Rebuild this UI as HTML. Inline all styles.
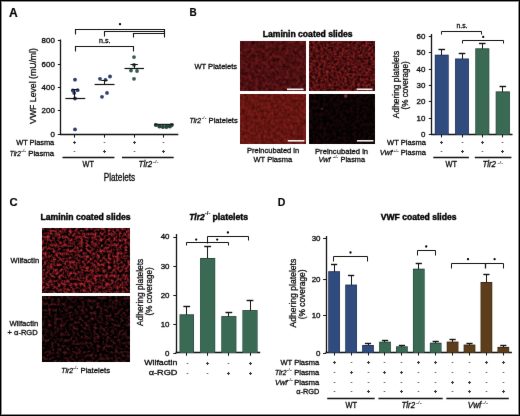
<!DOCTYPE html>
<html><head><meta charset="utf-8"><style>
html,body{margin:0;padding:0;background:#fff;}
svg{display:block;font-family:"Liberation Sans", sans-serif;will-change:transform;}
text{stroke:#111;stroke-width:0.3px;}
text[font-weight=bold]{stroke:#000;stroke-width:0.4px;}
</style></head><body>
<svg width="520" height="416" viewBox="0 0 520 416">
<rect x="0" y="0" width="520" height="416" fill="#fff"/>
<filter id="soft" x="0" y="0" width="520" height="416" filterUnits="userSpaceOnUse" color-interpolation-filters="sRGB"><feConvolveMatrix order="3" kernelMatrix="0.00276 0.04704 0.00276 0.04704 0.80077 0.04704 0.00276 0.04704 0.00276" edgeMode="duplicate" preserveAlpha="true"/></filter>
<g filter="url(#soft)"><rect x="0" y="0" width="520" height="416" fill="#fff"/>
<defs><filter id="fB1" x="0" y="0" width="1" height="1" color-interpolation-filters="sRGB">
<feTurbulence type="fractalNoise" baseFrequency="0.29" numOctaves="3" seed="21"/>
<feColorMatrix type="matrix" values="1 0 0 0 0 1 0 0 0 0 1 0 0 0 0 0 0 0 0 1"/>
<feComponentTransfer><feFuncR type="linear" slope="0.432" intercept="0.090"/><feFuncG type="linear" slope="0.133" intercept="-0.004"/><feFuncB type="linear" slope="0.133" intercept="0.004"/></feComponentTransfer>
</filter>
<filter id="fB2" x="0" y="0" width="1" height="1" color-interpolation-filters="sRGB">
<feTurbulence type="fractalNoise" baseFrequency="0.38" numOctaves="2" seed="12"/>
<feColorMatrix type="matrix" values="1 0 0 0 0 1 0 0 0 0 1 0 0 0 0 0 0 0 0 1"/>
<feComponentTransfer><feFuncR type="linear" slope="0.798" intercept="-0.077"/><feFuncG type="linear" slope="0.199" intercept="-0.033"/><feFuncB type="linear" slope="0.166" intercept="-0.012"/></feComponentTransfer>
</filter>
<filter id="fB3" x="0" y="0" width="1" height="1" color-interpolation-filters="sRGB">
<feTurbulence type="fractalNoise" baseFrequency="0.31" numOctaves="3" seed="23"/>
<feColorMatrix type="matrix" values="1 0 0 0 0 1 0 0 0 0 1 0 0 0 0 0 0 0 0 1"/>
<feComponentTransfer><feFuncR type="linear" slope="0.366" intercept="0.217"/><feFuncG type="linear" slope="0.100" intercept="0.036"/><feFuncB type="linear" slope="0.100" intercept="0.021"/></feComponentTransfer>
</filter>
<filter id="fB4" x="0" y="0" width="1" height="1" color-interpolation-filters="sRGB">
<feTurbulence type="fractalNoise" baseFrequency="0.3" numOctaves="2" seed="14"/>
<feColorMatrix type="matrix" values="1 0 0 0 0 1 0 0 0 0 1 0 0 0 0 0 0 0 0 1"/>
<feComponentTransfer><feFuncR type="linear" slope="0.233" intercept="-0.065"/><feFuncG type="linear" slope="0.066" intercept="-0.018"/><feFuncB type="linear" slope="0.066" intercept="-0.014"/></feComponentTransfer>
</filter>
<filter id="fC1" x="0" y="0" width="1" height="1" color-interpolation-filters="sRGB">
<feTurbulence type="fractalNoise" baseFrequency="0.36" numOctaves="3" seed="15"/>
<feColorMatrix type="matrix" values="1 0 0 0 0 1 0 0 0 0 1 0 0 0 0 0 0 0 0 1"/>
<feComponentTransfer><feFuncR type="linear" slope="1.529" intercept="-0.506"/><feFuncG type="linear" slope="0.366" intercept="-0.128"/><feFuncB type="linear" slope="0.399" intercept="-0.129"/></feComponentTransfer>
</filter>
<filter id="fC2" x="0" y="0" width="1" height="1" color-interpolation-filters="sRGB">
<feTurbulence type="fractalNoise" baseFrequency="0.33" numOctaves="3" seed="27"/>
<feColorMatrix type="matrix" values="1 0 0 0 0 1 0 0 0 0 1 0 0 0 0 0 0 0 0 1"/>
<feComponentTransfer><feFuncR type="linear" slope="0.864" intercept="-0.354"/><feFuncG type="linear" slope="0.233" intercept="-0.097"/><feFuncB type="linear" slope="0.233" intercept="-0.089"/></feComponentTransfer>
</filter></defs><rect x="240" y="41" width="66" height="50" fill="#000"/><rect x="240" y="41" width="66" height="50" fill="#000" filter="url(#fB1)"/>
<rect x="309" y="41" width="66" height="50" fill="#000"/><rect x="309" y="41" width="66" height="50" fill="#000" filter="url(#fB2)"/>
<rect x="240" y="94.3" width="66" height="48.9" fill="#000"/><rect x="240" y="94.3" width="66" height="48.9" fill="#000" filter="url(#fB3)"/>
<rect x="309" y="94.3" width="66" height="48.9" fill="#000"/><rect x="309" y="94.3" width="66" height="48.9" fill="#000" filter="url(#fB4)"/>
<rect x="42.3" y="228" width="87" height="64.7" fill="#000"/><rect x="42.3" y="228" width="87" height="64.7" fill="#000" filter="url(#fC1)"/>
<rect x="42.3" y="296.7" width="87" height="65.1" fill="#000"/><rect x="42.3" y="296.7" width="87" height="65.1" fill="#000" filter="url(#fC2)"/>
<circle cx="345.8" cy="96" r="1.8" fill="#b04048" opacity="0.7"/><circle cx="322" cy="109" r="1" fill="#803030" opacity="0.6"/>
<line x1="287" y1="89.3" x2="303.6" y2="89.3" stroke="#f4f4f4" stroke-width="1.6"/>
<line x1="356.7" y1="89.3" x2="372.5" y2="89.3" stroke="#f4f4f4" stroke-width="1.6"/>
<line x1="287.7" y1="140.8" x2="304.4" y2="140.8" stroke="#f4f4f4" stroke-width="1.6"/>
<line x1="356.9" y1="140.8" x2="373.4" y2="140.8" stroke="#f4f4f4" stroke-width="1.6"/>
<text x="9.0" y="16.6" font-size="12.1" text-anchor="start" font-weight="bold" fill="#000" style="stroke-width:0.15px">A</text>
<line x1="60.5" y1="39.5" x2="60.5" y2="135" stroke="#111" stroke-width="1.3"/>
<line x1="60" y1="134.5" x2="178.3" y2="134.5" stroke="#111" stroke-width="1.3"/>
<line x1="57.8" y1="134.5" x2="60.5" y2="134.5" stroke="#111" stroke-width="1.0"/>
<text x="54.8" y="136.9" font-size="7" text-anchor="end" textLength="4.4" lengthAdjust="spacingAndGlyphs">0</text>
<line x1="57.8" y1="110.5" x2="60.5" y2="110.5" stroke="#111" stroke-width="1.0"/>
<text x="54.8" y="113.45" font-size="7" text-anchor="end" textLength="13.200000000000001" lengthAdjust="spacingAndGlyphs">200</text>
<line x1="57.8" y1="87.5" x2="60.5" y2="87.5" stroke="#111" stroke-width="1.0"/>
<text x="54.8" y="90.0" font-size="7" text-anchor="end" textLength="13.200000000000001" lengthAdjust="spacingAndGlyphs">400</text>
<line x1="57.8" y1="64.5" x2="60.5" y2="64.5" stroke="#111" stroke-width="1.0"/>
<text x="54.8" y="66.55000000000001" font-size="7" text-anchor="end" textLength="13.200000000000001" lengthAdjust="spacingAndGlyphs">600</text>
<line x1="57.8" y1="40.5" x2="60.5" y2="40.5" stroke="#111" stroke-width="1.0"/>
<text x="54.8" y="43.10000000000001" font-size="7" text-anchor="end" textLength="13.200000000000001" lengthAdjust="spacingAndGlyphs">800</text>
<text x="35.6" y="86" font-size="9.7" text-anchor="middle" textLength="75.8" lengthAdjust="spacingAndGlyphs" transform="rotate(-90 35.6 86)">VWF Level (mU/ml)</text>
<line x1="74.5" y1="134.5" x2="74.5" y2="137.6" stroke="#111" stroke-width="1.0"/>
<line x1="104.5" y1="134.5" x2="104.5" y2="137.6" stroke="#111" stroke-width="1.0"/>
<line x1="134.5" y1="134.5" x2="134.5" y2="137.6" stroke="#111" stroke-width="1.0"/>
<line x1="163.5" y1="134.5" x2="163.5" y2="137.6" stroke="#111" stroke-width="1.0"/>
<path d="M75.5,34.5 V29.5 H164.5 V37.5 " fill="none" stroke="#111" stroke-width="1.1"/>
<path d="M104.5,36.5 V31.5 H164.5 " fill="none" stroke="#111" stroke-width="1.1"/>
<path d="M133.5,37.5 V33.5 H164.5 " fill="none" stroke="#111" stroke-width="1.1"/>
<circle cx="120" cy="24.2" r="1.15" fill="#000"/>
<path d="M75.5,51.5 V46.5 H133.5 V51.5 " fill="none" stroke="#111" stroke-width="1.1"/>
<text x="99" y="42.9" font-size="7" text-anchor="start" textLength="11.5" lengthAdjust="spacingAndGlyphs">n.s.</text>
<circle cx="75" cy="79.7" r="1.9" fill="#2e3f6e"/>
<circle cx="72.8" cy="90.5" r="1.9" fill="#2e3f6e"/>
<circle cx="77.6" cy="90.2" r="1.9" fill="#2e3f6e"/>
<circle cx="74.2" cy="93" r="1.9" fill="#2e3f6e"/>
<circle cx="75" cy="98.5" r="1.9" fill="#2e3f6e"/>
<circle cx="75" cy="129.4" r="1.9" fill="#2e3f6e"/>
<line x1="65.4" y1="98.5" x2="85.3" y2="98.5" stroke="#111" stroke-width="1.2"/>
<line x1="74.5" y1="89.6" x2="74.5" y2="98" stroke="#111" stroke-width="1.0"/>
<line x1="71.8" y1="89.5" x2="78.4" y2="89.5" stroke="#111" stroke-width="1.0"/>
<circle cx="100" cy="78.8" r="1.9" fill="#2e3f6e"/>
<circle cx="105.5" cy="79.8" r="1.9" fill="#2e3f6e"/>
<circle cx="110" cy="76.5" r="1.9" fill="#2e3f6e"/>
<circle cx="107" cy="92.9" r="1.9" fill="#2e3f6e"/>
<circle cx="102" cy="96.8" r="1.9" fill="#2e3f6e"/>
<line x1="94.6" y1="84.5" x2="114.5" y2="84.5" stroke="#111" stroke-width="1.2"/>
<line x1="104.5" y1="81" x2="104.5" y2="84.6" stroke="#111" stroke-width="1.0"/>
<line x1="101.2" y1="80.5" x2="107.6" y2="80.5" stroke="#111" stroke-width="1.0"/>
<circle cx="134" cy="57.1" r="1.9" fill="#345c4b"/>
<circle cx="134" cy="64.9" r="1.9" fill="#345c4b"/>
<circle cx="131" cy="70.6" r="1.9" fill="#345c4b"/>
<circle cx="137" cy="71" r="1.9" fill="#345c4b"/>
<circle cx="134" cy="78.8" r="1.9" fill="#345c4b"/>
<line x1="124.5" y1="68.5" x2="144" y2="68.5" stroke="#111" stroke-width="1.2"/>
<line x1="134.5" y1="64.7" x2="134.5" y2="68.4" stroke="#111" stroke-width="1.0"/>
<line x1="130.5" y1="64.5" x2="137.9" y2="64.5" stroke="#111" stroke-width="1.0"/>
<circle cx="155.9" cy="125.0" r="2.05" fill="#25443a"/>
<circle cx="159.4" cy="126.4" r="2.05" fill="#25443a"/>
<circle cx="162.9" cy="126.9" r="2.05" fill="#25443a"/>
<circle cx="166.4" cy="126.9" r="2.05" fill="#25443a"/>
<circle cx="169.8" cy="126.4" r="2.05" fill="#25443a"/>
<circle cx="171.7" cy="125.1" r="2.05" fill="#25443a"/>
<line x1="154" y1="124.5" x2="173.6" y2="124.5" stroke="#14221c" stroke-width="1.4"/>
<text x="54.2" y="144.9" font-size="7.5" text-anchor="end" textLength="38" lengthAdjust="spacingAndGlyphs">WT Plasma</text>
<text x="9.8" y="155.5" font-size="7.5" text-anchor="start" font-style="italic" textLength="11" lengthAdjust="spacingAndGlyphs">Tlr2</text>
<text x="21.2" y="152.2" font-size="4" text-anchor="start" textLength="4.8" lengthAdjust="spacingAndGlyphs" fill="#333" style="stroke-width:0.05px">-/-</text>
<text x="54.2" y="155.5" font-size="7.5" text-anchor="end" textLength="26" lengthAdjust="spacingAndGlyphs">Plasma</text>
<line x1="73.0" y1="142.5" x2="76.0" y2="142.5" stroke="#333" stroke-width="1.0"/>
<line x1="74.5" y1="141.0" x2="74.5" y2="144.0" stroke="#333" stroke-width="1.0"/>
<line x1="73.7" y1="151.5" x2="75.3" y2="151.5" stroke="#666" stroke-width="1.0"/>
<line x1="103.7" y1="142.5" x2="105.3" y2="142.5" stroke="#666" stroke-width="1.0"/>
<line x1="103.0" y1="151.5" x2="106.0" y2="151.5" stroke="#333" stroke-width="1.0"/>
<line x1="104.5" y1="150.0" x2="104.5" y2="153.0" stroke="#333" stroke-width="1.0"/>
<line x1="133.0" y1="142.5" x2="136.0" y2="142.5" stroke="#333" stroke-width="1.0"/>
<line x1="134.5" y1="141.0" x2="134.5" y2="144.0" stroke="#333" stroke-width="1.0"/>
<line x1="133.7" y1="151.5" x2="135.3" y2="151.5" stroke="#666" stroke-width="1.0"/>
<line x1="162.7" y1="142.5" x2="164.3" y2="142.5" stroke="#666" stroke-width="1.0"/>
<line x1="162.0" y1="151.5" x2="165.0" y2="151.5" stroke="#333" stroke-width="1.0"/>
<line x1="163.5" y1="150.0" x2="163.5" y2="153.0" stroke="#333" stroke-width="1.0"/>
<line x1="62.5" y1="157.5" x2="114.4" y2="157.5" stroke="#111" stroke-width="1.4"/>
<line x1="122" y1="157.5" x2="173.7" y2="157.5" stroke="#111" stroke-width="1.4"/>
<text x="88.3" y="167.3" font-size="8.3" text-anchor="middle" textLength="11.4" lengthAdjust="spacingAndGlyphs">WT</text>
<text x="138.6" y="167.3" font-size="8.3" text-anchor="start" font-style="italic" textLength="13.6" lengthAdjust="spacingAndGlyphs">Tlr2</text>
<text x="153.0" y="163.4" font-size="4.2" text-anchor="start" textLength="5.6" lengthAdjust="spacingAndGlyphs" fill="#333" style="stroke-width:0.05px">-/-</text>
<text x="103.7" y="180.7" font-size="10" text-anchor="start" textLength="31.5" lengthAdjust="spacingAndGlyphs">Platelets</text>
<text x="189.4" y="16.4" font-size="11.6" text-anchor="start" font-weight="bold" textLength="7.2" lengthAdjust="spacingAndGlyphs" fill="#000" style="stroke-width:0.15px">B</text>
<text x="262.7" y="36.6" font-size="8.6" text-anchor="start" font-weight="bold" textLength="89.9" lengthAdjust="spacingAndGlyphs" fill="#000">Laminin coated slides</text>
<text x="194.4" y="69.2" font-size="7.6" text-anchor="start" textLength="42.7" lengthAdjust="spacingAndGlyphs">WT Platelets</text>
<text x="189.4" y="122.6" font-size="7.8" text-anchor="start" font-style="italic" textLength="11.7" lengthAdjust="spacingAndGlyphs">Tlr2</text>
<text x="201.7" y="118.6" font-size="4" text-anchor="start" textLength="4.6" lengthAdjust="spacingAndGlyphs" fill="#333" style="stroke-width:0.05px">-/-</text>
<text x="208.6" y="122.6" font-size="7.8" text-anchor="start" textLength="29.2" lengthAdjust="spacingAndGlyphs">Platelets</text>
<text x="247" y="153.4" font-size="7.6" text-anchor="start" textLength="52.2" lengthAdjust="spacingAndGlyphs">Preincubated in</text>
<text x="253.5" y="162.2" font-size="7.6" text-anchor="start" textLength="38.7" lengthAdjust="spacingAndGlyphs">WT Plasma</text>
<text x="315" y="153.5" font-size="7.6" text-anchor="start" textLength="53.1" lengthAdjust="spacingAndGlyphs">Preincubated in</text>
<text x="318.5" y="162" font-size="7.6" text-anchor="start" font-style="italic" textLength="12.1" lengthAdjust="spacingAndGlyphs">Vwf</text>
<text x="333" y="158.2" font-size="4" text-anchor="start" textLength="5" lengthAdjust="spacingAndGlyphs" fill="#333" style="stroke-width:0.05px">+/-</text>
<text x="340.6" y="162" font-size="7.6" text-anchor="start" textLength="24.4" lengthAdjust="spacingAndGlyphs">Plasma</text>
<line x1="431.5" y1="34" x2="431.5" y2="135" stroke="#111" stroke-width="1.3"/>
<line x1="431" y1="134.5" x2="512.5" y2="134.5" stroke="#111" stroke-width="1.3"/>
<line x1="428.8" y1="134.5" x2="431.5" y2="134.5" stroke="#111" stroke-width="1.0"/>
<text x="425.3" y="136.9" font-size="7" text-anchor="end" textLength="4.4" lengthAdjust="spacingAndGlyphs">0</text>
<line x1="428.8" y1="118.5" x2="431.5" y2="118.5" stroke="#111" stroke-width="1.0"/>
<text x="425.3" y="120.60000000000001" font-size="7" text-anchor="end" textLength="8.8" lengthAdjust="spacingAndGlyphs">10</text>
<line x1="428.8" y1="101.5" x2="431.5" y2="101.5" stroke="#111" stroke-width="1.0"/>
<text x="425.3" y="104.30000000000001" font-size="7" text-anchor="end" textLength="8.8" lengthAdjust="spacingAndGlyphs">20</text>
<line x1="428.8" y1="85.5" x2="431.5" y2="85.5" stroke="#111" stroke-width="1.0"/>
<text x="425.3" y="88.0" font-size="7" text-anchor="end" textLength="8.8" lengthAdjust="spacingAndGlyphs">30</text>
<line x1="428.8" y1="69.5" x2="431.5" y2="69.5" stroke="#111" stroke-width="1.0"/>
<text x="425.3" y="71.70000000000002" font-size="7" text-anchor="end" textLength="8.8" lengthAdjust="spacingAndGlyphs">40</text>
<line x1="428.8" y1="52.5" x2="431.5" y2="52.5" stroke="#111" stroke-width="1.0"/>
<text x="425.3" y="55.4" font-size="7" text-anchor="end" textLength="8.8" lengthAdjust="spacingAndGlyphs">50</text>
<line x1="428.8" y1="36.5" x2="431.5" y2="36.5" stroke="#111" stroke-width="1.0"/>
<text x="425.3" y="39.1" font-size="7" text-anchor="end" textLength="8.8" lengthAdjust="spacingAndGlyphs">60</text>
<line x1="441.5" y1="49.9" x2="441.5" y2="55.7" stroke="#111" stroke-width="1.0"/>
<line x1="438.45" y1="49.5" x2="445.05" y2="49.5" stroke="#111" stroke-width="1.4"/>
<rect x="434.8" y="54.7" width="13.899999999999977" height="79.8" fill="#1d2f58"/>
<rect x="435.40000000000003" y="55.6" width="12.699999999999978" height="78.89999999999999" fill="#304c7e"/>
<line x1="441.5" y1="134.5" x2="441.5" y2="137.4" stroke="#111" stroke-width="1.0"/>
<line x1="462.5" y1="53.5" x2="462.5" y2="59.5" stroke="#111" stroke-width="1.0"/>
<line x1="458.7" y1="53.5" x2="465.3" y2="53.5" stroke="#111" stroke-width="1.4"/>
<rect x="455.1" y="58.5" width="13.799999999999955" height="76.0" fill="#1d2f58"/>
<rect x="455.70000000000005" y="59.4" width="12.599999999999955" height="75.1" fill="#304c7e"/>
<line x1="462.5" y1="134.5" x2="462.5" y2="137.4" stroke="#111" stroke-width="1.0"/>
<line x1="482.5" y1="43.8" x2="482.5" y2="49.3" stroke="#111" stroke-width="1.0"/>
<line x1="479.0" y1="43.5" x2="485.6" y2="43.5" stroke="#111" stroke-width="1.4"/>
<rect x="475.3" y="48.3" width="14.0" height="86.2" fill="#22443a"/>
<rect x="475.90000000000003" y="49.199999999999996" width="12.8" height="85.3" fill="#3a6a54"/>
<line x1="482.5" y1="134.5" x2="482.5" y2="137.4" stroke="#111" stroke-width="1.0"/>
<line x1="502.5" y1="87" x2="502.5" y2="92.4" stroke="#111" stroke-width="1.0"/>
<line x1="499.49999999999994" y1="86.5" x2="506.09999999999997" y2="86.5" stroke="#111" stroke-width="1.4"/>
<rect x="495.7" y="91.4" width="14.199999999999989" height="43.099999999999994" fill="#22443a"/>
<rect x="496.3" y="92.30000000000001" width="12.99999999999999" height="42.199999999999996" fill="#3a6a54"/>
<line x1="502.5" y1="134.5" x2="502.5" y2="137.4" stroke="#111" stroke-width="1.0"/>
<path d="M441.5,34.5 V31.5 H481.5 V34.5 " fill="none" stroke="#111" stroke-width="1.0"/>
<text x="462" y="28" font-size="7" text-anchor="middle" textLength="11" lengthAdjust="spacingAndGlyphs">n.s.</text>
<path d="M462.5,43.5 V40.5 H503.5 V43.5 " fill="none" stroke="#111" stroke-width="1.0"/>
<circle cx="483.2" cy="36.9" r="1.15" fill="#000"/>
<text x="398.7" y="84.5" font-size="9.2" text-anchor="middle" textLength="67.3" lengthAdjust="spacingAndGlyphs" transform="rotate(-90 398.7 84.5)">Adhering platelets</text>
<text x="408.3" y="85.4" font-size="9.2" text-anchor="middle" textLength="48.1" lengthAdjust="spacingAndGlyphs" transform="rotate(-90 408.3 85.4)">(% coverage)</text>
<text x="425.9" y="144.5" font-size="7.5" text-anchor="end" textLength="38.8" lengthAdjust="spacingAndGlyphs">WT Plasma</text>
<text x="379.7" y="155.3" font-size="7.5" text-anchor="start" font-style="italic" textLength="12.6" lengthAdjust="spacingAndGlyphs">Vwf</text>
<text x="393.6" y="151.6" font-size="4" text-anchor="start" textLength="5" lengthAdjust="spacingAndGlyphs" fill="#333" style="stroke-width:0.05px">+/-</text>
<text x="425.9" y="155.3" font-size="7.5" text-anchor="end" textLength="25.1" lengthAdjust="spacingAndGlyphs">Plasma</text>
<line x1="440.0" y1="142.5" x2="443.0" y2="142.5" stroke="#333" stroke-width="1.0"/>
<line x1="441.5" y1="141.0" x2="441.5" y2="144.0" stroke="#333" stroke-width="1.0"/>
<line x1="440.7" y1="151.5" x2="442.3" y2="151.5" stroke="#666" stroke-width="1.0"/>
<line x1="461.7" y1="142.5" x2="463.3" y2="142.5" stroke="#666" stroke-width="1.0"/>
<line x1="461.0" y1="151.5" x2="464.0" y2="151.5" stroke="#333" stroke-width="1.0"/>
<line x1="462.5" y1="150.0" x2="462.5" y2="153.0" stroke="#333" stroke-width="1.0"/>
<line x1="481.0" y1="142.5" x2="484.0" y2="142.5" stroke="#333" stroke-width="1.0"/>
<line x1="482.5" y1="141.0" x2="482.5" y2="144.0" stroke="#333" stroke-width="1.0"/>
<line x1="481.7" y1="151.5" x2="483.3" y2="151.5" stroke="#666" stroke-width="1.0"/>
<line x1="501.7" y1="142.5" x2="503.3" y2="142.5" stroke="#666" stroke-width="1.0"/>
<line x1="501.0" y1="151.5" x2="504.0" y2="151.5" stroke="#333" stroke-width="1.0"/>
<line x1="502.5" y1="150.0" x2="502.5" y2="153.0" stroke="#333" stroke-width="1.0"/>
<line x1="433.3" y1="157.5" x2="468.9" y2="157.5" stroke="#111" stroke-width="1.4"/>
<line x1="474.8" y1="157.5" x2="511.4" y2="157.5" stroke="#111" stroke-width="1.4"/>
<text x="451.3" y="167.4" font-size="8.3" text-anchor="middle" textLength="11.5" lengthAdjust="spacingAndGlyphs">WT</text>
<text x="482.4" y="167.4" font-size="8.3" text-anchor="start" font-style="italic" textLength="13.6" lengthAdjust="spacingAndGlyphs">Tlr2</text>
<text x="497.4" y="163.5" font-size="4.2" text-anchor="start" textLength="5.8" lengthAdjust="spacingAndGlyphs" fill="#333" style="stroke-width:0.05px">-/-</text>
<text x="9.4" y="206.4" font-size="11.3" text-anchor="start" font-weight="bold" fill="#000" style="stroke-width:0.15px">C</text>
<text x="40.4" y="219.5" font-size="8.6" text-anchor="start" font-weight="bold" textLength="90.2" lengthAdjust="spacingAndGlyphs" fill="#000">Laminin coated slides</text>
<text x="10.6" y="262.5" font-size="7.6" text-anchor="start" textLength="28.5" lengthAdjust="spacingAndGlyphs">Wilfactin</text>
<text x="9.4" y="325.8" font-size="7.6" text-anchor="start" textLength="28.8" lengthAdjust="spacingAndGlyphs">Wilfactin</text>
<text x="7.5" y="335.2" font-size="7.6" text-anchor="start" textLength="30.2" lengthAdjust="spacingAndGlyphs">+ α-RGD</text>
<text x="61.3" y="373.2" font-size="7.6" text-anchor="start" font-style="italic" textLength="11.8" lengthAdjust="spacingAndGlyphs">Tlr2</text>
<text x="73.3" y="369.3" font-size="4" text-anchor="start" textLength="4.8" lengthAdjust="spacingAndGlyphs" fill="#333" style="stroke-width:0.05px">-/-</text>
<text x="80.5" y="373.2" font-size="7.6" text-anchor="start" textLength="29.5" lengthAdjust="spacingAndGlyphs">Platelets</text>
<text x="189.3" y="219.6" font-size="8.6" text-anchor="start" font-weight="bold" font-style="italic" textLength="15.2" lengthAdjust="spacingAndGlyphs" fill="#000">Tlr2</text>
<text x="204.8" y="215.4" font-size="4.6" text-anchor="start" font-weight="bold" textLength="5.6" lengthAdjust="spacingAndGlyphs" fill="#000" style="stroke-width:0.05px">-/-</text>
<text x="212.5" y="219.6" font-size="8.6" text-anchor="start" font-weight="bold" textLength="35.7" lengthAdjust="spacingAndGlyphs" fill="#000">platelets</text>
<line x1="176.5" y1="234" x2="176.5" y2="353.3" stroke="#111" stroke-width="1.3"/>
<line x1="175.5" y1="352.5" x2="260.2" y2="352.5" stroke="#111" stroke-width="1.3"/>
<line x1="173.3" y1="353.5" x2="176" y2="353.5" stroke="#111" stroke-width="1.0"/>
<text x="169.5" y="355.59999999999997" font-size="7" text-anchor="end" textLength="4.4" lengthAdjust="spacingAndGlyphs">0</text>
<line x1="173.3" y1="324.5" x2="176" y2="324.5" stroke="#111" stroke-width="1.0"/>
<text x="169.5" y="326.56999999999994" font-size="7" text-anchor="end" textLength="8.8" lengthAdjust="spacingAndGlyphs">10</text>
<line x1="173.3" y1="295.5" x2="176" y2="295.5" stroke="#111" stroke-width="1.0"/>
<text x="169.5" y="297.53999999999996" font-size="7" text-anchor="end" textLength="8.8" lengthAdjust="spacingAndGlyphs">20</text>
<line x1="173.3" y1="266.5" x2="176" y2="266.5" stroke="#111" stroke-width="1.0"/>
<text x="169.5" y="268.51" font-size="7" text-anchor="end" textLength="8.8" lengthAdjust="spacingAndGlyphs">30</text>
<line x1="173.3" y1="237.5" x2="176" y2="237.5" stroke="#111" stroke-width="1.0"/>
<text x="169.5" y="239.48" font-size="7" text-anchor="end" textLength="8.8" lengthAdjust="spacingAndGlyphs">40</text>
<line x1="186.5" y1="306.3" x2="186.5" y2="315.3" stroke="#111" stroke-width="1.0"/>
<line x1="183.35" y1="306.5" x2="190.15" y2="306.5" stroke="#111" stroke-width="1.4"/>
<rect x="179.5" y="314.3" width="14.5" height="38.5" fill="#22443a"/>
<rect x="180.1" y="315.2" width="13.3" height="37.6" fill="#3a6a54"/>
<line x1="186.5" y1="352.8" x2="186.5" y2="355.8" stroke="#111" stroke-width="1.0"/>
<line x1="207.5" y1="246.8" x2="207.5" y2="259" stroke="#111" stroke-width="1.0"/>
<line x1="204.24999999999997" y1="246.5" x2="211.04999999999998" y2="246.5" stroke="#111" stroke-width="1.4"/>
<rect x="200.1" y="258" width="15.099999999999994" height="94.80000000000001" fill="#22443a"/>
<rect x="200.7" y="258.9" width="13.899999999999995" height="93.9" fill="#3a6a54"/>
<line x1="207.5" y1="352.8" x2="207.5" y2="355.8" stroke="#111" stroke-width="1.0"/>
<line x1="228.5" y1="312.2" x2="228.5" y2="317.1" stroke="#111" stroke-width="1.0"/>
<line x1="225.45000000000002" y1="312.5" x2="232.25000000000003" y2="312.5" stroke="#111" stroke-width="1.4"/>
<rect x="221.3" y="316.1" width="15.099999999999994" height="36.69999999999999" fill="#22443a"/>
<rect x="221.9" y="317.0" width="13.899999999999995" height="35.79999999999999" fill="#3a6a54"/>
<line x1="228.5" y1="352.8" x2="228.5" y2="355.8" stroke="#111" stroke-width="1.0"/>
<line x1="250.5" y1="300.5" x2="250.5" y2="311.1" stroke="#111" stroke-width="1.0"/>
<line x1="246.6" y1="300.5" x2="253.4" y2="300.5" stroke="#111" stroke-width="1.4"/>
<rect x="242.4" y="310.1" width="15.200000000000017" height="42.69999999999999" fill="#22443a"/>
<rect x="243.0" y="311.0" width="14.000000000000018" height="41.79999999999999" fill="#3a6a54"/>
<line x1="250.5" y1="352.8" x2="250.5" y2="355.8" stroke="#111" stroke-width="1.0"/>
<path d="M186.5,245.5 V242.5 H228.5 V245.5 " fill="none" stroke="#111" stroke-width="1.0"/>
<path d="M207.5,243.5 V236.5 H248.5 V240.5 " fill="none" stroke="#111" stroke-width="1.0"/>
<circle cx="196.2" cy="239.6" r="1.15" fill="#000"/>
<circle cx="217.2" cy="239.6" r="1.15" fill="#000"/>
<circle cx="227.9" cy="232.5" r="1.15" fill="#000"/>
<text x="142.7" y="292.4" font-size="9.2" text-anchor="middle" textLength="67.3" lengthAdjust="spacingAndGlyphs" transform="rotate(-90 142.7 292.4)">Adhering platelets</text>
<text x="151.9" y="291.4" font-size="9.2" text-anchor="middle" textLength="48.1" lengthAdjust="spacingAndGlyphs" transform="rotate(-90 151.9 291.4)">(% coverage)</text>
<text x="177.4" y="364.9" font-size="7.5" text-anchor="end" textLength="33.2" lengthAdjust="spacingAndGlyphs">Wilfactin</text>
<text x="177.4" y="375.1" font-size="7.5" text-anchor="end" textLength="28.6" lengthAdjust="spacingAndGlyphs">α-RGD</text>
<line x1="186.7" y1="363.5" x2="188.3" y2="363.5" stroke="#666" stroke-width="1.0"/>
<line x1="186.7" y1="373.5" x2="188.3" y2="373.5" stroke="#666" stroke-width="1.0"/>
<line x1="206.0" y1="363.5" x2="209.0" y2="363.5" stroke="#333" stroke-width="1.0"/>
<line x1="207.5" y1="362.0" x2="207.5" y2="365.0" stroke="#333" stroke-width="1.0"/>
<line x1="206.7" y1="373.5" x2="208.3" y2="373.5" stroke="#666" stroke-width="1.0"/>
<line x1="227.7" y1="363.5" x2="229.3" y2="363.5" stroke="#666" stroke-width="1.0"/>
<line x1="227.0" y1="373.5" x2="230.0" y2="373.5" stroke="#333" stroke-width="1.0"/>
<line x1="228.5" y1="372.0" x2="228.5" y2="375.0" stroke="#333" stroke-width="1.0"/>
<line x1="249.0" y1="363.5" x2="252.0" y2="363.5" stroke="#333" stroke-width="1.0"/>
<line x1="250.5" y1="362.0" x2="250.5" y2="365.0" stroke="#333" stroke-width="1.0"/>
<line x1="249.0" y1="373.5" x2="252.0" y2="373.5" stroke="#333" stroke-width="1.0"/>
<line x1="250.5" y1="372.0" x2="250.5" y2="375.0" stroke="#333" stroke-width="1.0"/>
<text x="277.7" y="206.3" font-size="11.6" text-anchor="start" font-weight="bold" textLength="7.6" lengthAdjust="spacingAndGlyphs" fill="#000" style="stroke-width:0.15px">D</text>
<text x="380.7" y="219.7" font-size="8.6" text-anchor="start" font-weight="bold" textLength="75.8" lengthAdjust="spacingAndGlyphs" fill="#000">VWF coated slides</text>
<line x1="326.5" y1="236" x2="326.5" y2="353.1" stroke="#111" stroke-width="1.3"/>
<line x1="325.5" y1="352.5" x2="511.9" y2="352.5" stroke="#111" stroke-width="1.3"/>
<line x1="323.1" y1="353.5" x2="326" y2="353.5" stroke="#111" stroke-width="1.0"/>
<text x="320.5" y="355.5" font-size="7" text-anchor="end" textLength="4.4" lengthAdjust="spacingAndGlyphs">0</text>
<line x1="323.1" y1="315.5" x2="326" y2="315.5" stroke="#111" stroke-width="1.0"/>
<text x="320.5" y="318.0" font-size="7" text-anchor="end" textLength="8.8" lengthAdjust="spacingAndGlyphs">10</text>
<line x1="323.1" y1="279.5" x2="326" y2="279.5" stroke="#111" stroke-width="1.0"/>
<text x="320.5" y="281.5" font-size="7" text-anchor="end" textLength="8.8" lengthAdjust="spacingAndGlyphs">20</text>
<line x1="323.1" y1="238.5" x2="326" y2="238.5" stroke="#111" stroke-width="1.0"/>
<text x="320.5" y="241.1" font-size="7" text-anchor="end" textLength="8.8" lengthAdjust="spacingAndGlyphs">30</text>
<line x1="334.5" y1="264.7" x2="334.5" y2="272.2" stroke="#111" stroke-width="1.0"/>
<line x1="331.0" y1="264.5" x2="337.20000000000005" y2="264.5" stroke="#111" stroke-width="1.4"/>
<rect x="328.25" y="271.2" width="11.7" height="81.40000000000003" fill="#1d2f58"/>
<rect x="328.85" y="272.09999999999997" width="10.5" height="80.50000000000003" fill="#304c7e"/>
<line x1="334.5" y1="352.6" x2="334.5" y2="355.5" stroke="#111" stroke-width="1.0"/>
<line x1="351.5" y1="275.9" x2="351.5" y2="285.6" stroke="#111" stroke-width="1.0"/>
<line x1="348.0" y1="275.5" x2="354.20000000000005" y2="275.5" stroke="#111" stroke-width="1.4"/>
<rect x="345.25" y="284.6" width="11.7" height="68.0" fill="#1d2f58"/>
<rect x="345.85" y="285.5" width="10.5" height="67.1" fill="#304c7e"/>
<line x1="351.5" y1="352.6" x2="351.5" y2="355.5" stroke="#111" stroke-width="1.0"/>
<line x1="368.5" y1="343.8" x2="368.5" y2="346" stroke="#111" stroke-width="1.0"/>
<line x1="364.9" y1="343.5" x2="371.1" y2="343.5" stroke="#111" stroke-width="1.4"/>
<rect x="362.15" y="345" width="11.7" height="7.600000000000023" fill="#1d2f58"/>
<rect x="362.75" y="345.9" width="10.5" height="6.700000000000022" fill="#304c7e"/>
<line x1="368.5" y1="352.6" x2="368.5" y2="355.5" stroke="#111" stroke-width="1.0"/>
<line x1="384.5" y1="340.0" x2="384.5" y2="342.7" stroke="#111" stroke-width="1.0"/>
<line x1="381.9" y1="340.5" x2="388.1" y2="340.5" stroke="#111" stroke-width="1.4"/>
<rect x="379.15" y="341.7" width="11.7" height="10.900000000000034" fill="#22443a"/>
<rect x="379.75" y="342.59999999999997" width="10.5" height="10.000000000000034" fill="#3a6a54"/>
<line x1="384.5" y1="352.6" x2="384.5" y2="355.5" stroke="#111" stroke-width="1.0"/>
<line x1="401.5" y1="345.2" x2="401.5" y2="347.3" stroke="#111" stroke-width="1.0"/>
<line x1="398.79999999999995" y1="345.5" x2="405.0" y2="345.5" stroke="#111" stroke-width="1.4"/>
<rect x="396.04999999999995" y="346.3" width="11.7" height="6.300000000000011" fill="#22443a"/>
<rect x="396.65" y="347.2" width="10.5" height="5.400000000000011" fill="#3a6a54"/>
<line x1="401.5" y1="352.6" x2="401.5" y2="355.5" stroke="#111" stroke-width="1.0"/>
<line x1="418.5" y1="263.3" x2="418.5" y2="269.7" stroke="#111" stroke-width="1.0"/>
<line x1="415.7" y1="263.5" x2="421.90000000000003" y2="263.5" stroke="#111" stroke-width="1.4"/>
<rect x="412.95" y="268.7" width="11.7" height="83.90000000000003" fill="#22443a"/>
<rect x="413.55" y="269.59999999999997" width="10.5" height="83.00000000000003" fill="#3a6a54"/>
<line x1="418.5" y1="352.6" x2="418.5" y2="355.5" stroke="#111" stroke-width="1.0"/>
<line x1="435.5" y1="341.8" x2="435.5" y2="343.7" stroke="#111" stroke-width="1.0"/>
<line x1="432.59999999999997" y1="341.5" x2="438.8" y2="341.5" stroke="#111" stroke-width="1.4"/>
<rect x="429.84999999999997" y="342.7" width="11.7" height="9.900000000000034" fill="#22443a"/>
<rect x="430.45" y="343.59999999999997" width="10.5" height="9.000000000000034" fill="#3a6a54"/>
<line x1="435.5" y1="352.6" x2="435.5" y2="355.5" stroke="#111" stroke-width="1.0"/>
<line x1="452.5" y1="339.8" x2="452.5" y2="342.6" stroke="#111" stroke-width="1.0"/>
<line x1="449.5" y1="339.5" x2="455.70000000000005" y2="339.5" stroke="#111" stroke-width="1.4"/>
<rect x="446.75" y="341.6" width="11.7" height="11.0" fill="#3a2610"/>
<rect x="447.35" y="342.5" width="10.5" height="10.1" fill="#5d3e1c"/>
<line x1="452.5" y1="352.6" x2="452.5" y2="355.5" stroke="#111" stroke-width="1.0"/>
<line x1="469.5" y1="343.6" x2="469.5" y2="345.6" stroke="#111" stroke-width="1.0"/>
<line x1="466.4" y1="343.5" x2="472.6" y2="343.5" stroke="#111" stroke-width="1.4"/>
<rect x="463.65" y="344.6" width="11.7" height="8.0" fill="#3a2610"/>
<rect x="464.25" y="345.5" width="10.5" height="7.1" fill="#5d3e1c"/>
<line x1="469.5" y1="352.6" x2="469.5" y2="355.5" stroke="#111" stroke-width="1.0"/>
<line x1="486.5" y1="274.2" x2="486.5" y2="283" stroke="#111" stroke-width="1.0"/>
<line x1="483.29999999999995" y1="274.5" x2="489.5" y2="274.5" stroke="#111" stroke-width="1.4"/>
<rect x="480.54999999999995" y="282" width="11.7" height="70.60000000000002" fill="#3a2610"/>
<rect x="481.15" y="282.9" width="10.5" height="69.70000000000002" fill="#5d3e1c"/>
<line x1="486.5" y1="352.6" x2="486.5" y2="355.5" stroke="#111" stroke-width="1.0"/>
<line x1="503.5" y1="345.8" x2="503.5" y2="347.9" stroke="#111" stroke-width="1.0"/>
<line x1="500.2" y1="345.5" x2="506.40000000000003" y2="345.5" stroke="#111" stroke-width="1.4"/>
<rect x="497.45" y="346.9" width="11.7" height="5.7000000000000455" fill="#3a2610"/>
<rect x="498.05" y="347.79999999999995" width="10.5" height="4.800000000000045" fill="#5d3e1c"/>
<line x1="503.5" y1="352.6" x2="503.5" y2="355.5" stroke="#111" stroke-width="1.0"/>
<path d="M333.5,261.5 V256.5 H367.5 V261.5 " fill="none" stroke="#111" stroke-width="1.0"/>
<circle cx="350.5" cy="252.5" r="1.15" fill="#000"/>
<path d="M417.5,255.5 V250.5 H435.5 V255.5 " fill="none" stroke="#111" stroke-width="1.0"/>
<circle cx="426.2" cy="246.5" r="1.15" fill="#000"/>
<path d="M451.5,268.5 V263.5 H503.5 V268.5 " fill="none" stroke="#111" stroke-width="1.0"/>
<line x1="485.5" y1="263.8" x2="485.5" y2="268.5" stroke="#111" stroke-width="1.3"/>
<circle cx="468" cy="259.2" r="1.15" fill="#000"/>
<circle cx="494.6" cy="259.2" r="1.15" fill="#000"/>
<text x="295.6" y="293.1" font-size="9.2" text-anchor="middle" textLength="68.8" lengthAdjust="spacingAndGlyphs" transform="rotate(-90 295.6 293.1)">Adhering platelets</text>
<text x="304.9" y="294.4" font-size="9.2" text-anchor="middle" textLength="49.8" lengthAdjust="spacingAndGlyphs" transform="rotate(-90 304.9 294.4)">(% coverage)</text>
<text x="319.3" y="364.5" font-size="7.5" text-anchor="end" textLength="38.8" lengthAdjust="spacingAndGlyphs">WT Plasma</text>
<text x="275" y="375" font-size="7.5" text-anchor="start" font-style="italic" textLength="11.5" lengthAdjust="spacingAndGlyphs">Tlr2</text>
<text x="286.8" y="371.2" font-size="4" text-anchor="start" textLength="4.8" lengthAdjust="spacingAndGlyphs" fill="#333" style="stroke-width:0.05px">-/-</text>
<text x="319.3" y="375" font-size="7.5" text-anchor="end" textLength="25.1" lengthAdjust="spacingAndGlyphs">Plasma</text>
<text x="275" y="384.5" font-size="7.5" text-anchor="start" font-style="italic" textLength="12.4" lengthAdjust="spacingAndGlyphs">Vwf</text>
<text x="288" y="380.7" font-size="4" text-anchor="start" textLength="4.8" lengthAdjust="spacingAndGlyphs" fill="#333" style="stroke-width:0.05px">-/-</text>
<text x="319.3" y="384.5" font-size="7.5" text-anchor="end" textLength="25.1" lengthAdjust="spacingAndGlyphs">Plasma</text>
<text x="319.3" y="393.8" font-size="7.5" text-anchor="end" textLength="23" lengthAdjust="spacingAndGlyphs">α-RGD</text>
<line x1="333.0" y1="362.5" x2="336.0" y2="362.5" stroke="#333" stroke-width="1.0"/>
<line x1="334.5" y1="361.0" x2="334.5" y2="364.0" stroke="#333" stroke-width="1.0"/>
<line x1="350.7" y1="362.5" x2="352.3" y2="362.5" stroke="#666" stroke-width="1.0"/>
<line x1="367.0" y1="362.5" x2="370.0" y2="362.5" stroke="#333" stroke-width="1.0"/>
<line x1="368.5" y1="361.0" x2="368.5" y2="364.0" stroke="#333" stroke-width="1.0"/>
<line x1="383.7" y1="362.5" x2="385.3" y2="362.5" stroke="#666" stroke-width="1.0"/>
<line x1="400.7" y1="362.5" x2="402.3" y2="362.5" stroke="#666" stroke-width="1.0"/>
<line x1="417.0" y1="362.5" x2="420.0" y2="362.5" stroke="#333" stroke-width="1.0"/>
<line x1="418.5" y1="361.0" x2="418.5" y2="364.0" stroke="#333" stroke-width="1.0"/>
<line x1="434.0" y1="362.5" x2="437.0" y2="362.5" stroke="#333" stroke-width="1.0"/>
<line x1="435.5" y1="361.0" x2="435.5" y2="364.0" stroke="#333" stroke-width="1.0"/>
<line x1="451.7" y1="362.5" x2="453.3" y2="362.5" stroke="#666" stroke-width="1.0"/>
<line x1="468.7" y1="362.5" x2="470.3" y2="362.5" stroke="#666" stroke-width="1.0"/>
<line x1="485.0" y1="362.5" x2="488.0" y2="362.5" stroke="#333" stroke-width="1.0"/>
<line x1="486.5" y1="361.0" x2="486.5" y2="364.0" stroke="#333" stroke-width="1.0"/>
<line x1="502.0" y1="362.5" x2="505.0" y2="362.5" stroke="#333" stroke-width="1.0"/>
<line x1="503.5" y1="361.0" x2="503.5" y2="364.0" stroke="#333" stroke-width="1.0"/>
<line x1="333.7" y1="372.5" x2="335.3" y2="372.5" stroke="#666" stroke-width="1.0"/>
<line x1="350.0" y1="372.5" x2="353.0" y2="372.5" stroke="#333" stroke-width="1.0"/>
<line x1="351.5" y1="371.0" x2="351.5" y2="374.0" stroke="#333" stroke-width="1.0"/>
<line x1="367.7" y1="372.5" x2="369.3" y2="372.5" stroke="#666" stroke-width="1.0"/>
<line x1="383.0" y1="372.5" x2="386.0" y2="372.5" stroke="#333" stroke-width="1.0"/>
<line x1="384.5" y1="371.0" x2="384.5" y2="374.0" stroke="#333" stroke-width="1.0"/>
<line x1="400.0" y1="372.5" x2="403.0" y2="372.5" stroke="#333" stroke-width="1.0"/>
<line x1="401.5" y1="371.0" x2="401.5" y2="374.0" stroke="#333" stroke-width="1.0"/>
<line x1="417.7" y1="372.5" x2="419.3" y2="372.5" stroke="#666" stroke-width="1.0"/>
<line x1="434.7" y1="372.5" x2="436.3" y2="372.5" stroke="#666" stroke-width="1.0"/>
<line x1="451.7" y1="372.5" x2="453.3" y2="372.5" stroke="#666" stroke-width="1.0"/>
<line x1="468.7" y1="372.5" x2="470.3" y2="372.5" stroke="#666" stroke-width="1.0"/>
<line x1="485.7" y1="372.5" x2="487.3" y2="372.5" stroke="#666" stroke-width="1.0"/>
<line x1="502.7" y1="372.5" x2="504.3" y2="372.5" stroke="#666" stroke-width="1.0"/>
<line x1="333.7" y1="382.5" x2="335.3" y2="382.5" stroke="#666" stroke-width="1.0"/>
<line x1="350.7" y1="382.5" x2="352.3" y2="382.5" stroke="#666" stroke-width="1.0"/>
<line x1="367.7" y1="382.5" x2="369.3" y2="382.5" stroke="#666" stroke-width="1.0"/>
<line x1="383.7" y1="382.5" x2="385.3" y2="382.5" stroke="#666" stroke-width="1.0"/>
<line x1="400.7" y1="382.5" x2="402.3" y2="382.5" stroke="#666" stroke-width="1.0"/>
<line x1="417.7" y1="382.5" x2="419.3" y2="382.5" stroke="#666" stroke-width="1.0"/>
<line x1="434.7" y1="382.5" x2="436.3" y2="382.5" stroke="#666" stroke-width="1.0"/>
<line x1="451.0" y1="382.5" x2="454.0" y2="382.5" stroke="#333" stroke-width="1.0"/>
<line x1="452.5" y1="381.0" x2="452.5" y2="384.0" stroke="#333" stroke-width="1.0"/>
<line x1="468.0" y1="382.5" x2="471.0" y2="382.5" stroke="#333" stroke-width="1.0"/>
<line x1="469.5" y1="381.0" x2="469.5" y2="384.0" stroke="#333" stroke-width="1.0"/>
<line x1="485.7" y1="382.5" x2="487.3" y2="382.5" stroke="#666" stroke-width="1.0"/>
<line x1="502.7" y1="382.5" x2="504.3" y2="382.5" stroke="#666" stroke-width="1.0"/>
<line x1="333.7" y1="391.5" x2="335.3" y2="391.5" stroke="#666" stroke-width="1.0"/>
<line x1="350.7" y1="391.5" x2="352.3" y2="391.5" stroke="#666" stroke-width="1.0"/>
<line x1="367.0" y1="391.5" x2="370.0" y2="391.5" stroke="#333" stroke-width="1.0"/>
<line x1="368.5" y1="390.0" x2="368.5" y2="393.0" stroke="#333" stroke-width="1.0"/>
<line x1="383.7" y1="391.5" x2="385.3" y2="391.5" stroke="#666" stroke-width="1.0"/>
<line x1="400.0" y1="391.5" x2="403.0" y2="391.5" stroke="#333" stroke-width="1.0"/>
<line x1="401.5" y1="390.0" x2="401.5" y2="393.0" stroke="#333" stroke-width="1.0"/>
<line x1="417.7" y1="391.5" x2="419.3" y2="391.5" stroke="#666" stroke-width="1.0"/>
<line x1="434.0" y1="391.5" x2="437.0" y2="391.5" stroke="#333" stroke-width="1.0"/>
<line x1="435.5" y1="390.0" x2="435.5" y2="393.0" stroke="#333" stroke-width="1.0"/>
<line x1="451.7" y1="391.5" x2="453.3" y2="391.5" stroke="#666" stroke-width="1.0"/>
<line x1="468.0" y1="391.5" x2="471.0" y2="391.5" stroke="#333" stroke-width="1.0"/>
<line x1="469.5" y1="390.0" x2="469.5" y2="393.0" stroke="#333" stroke-width="1.0"/>
<line x1="485.7" y1="391.5" x2="487.3" y2="391.5" stroke="#666" stroke-width="1.0"/>
<line x1="502.0" y1="391.5" x2="505.0" y2="391.5" stroke="#333" stroke-width="1.0"/>
<line x1="503.5" y1="390.0" x2="503.5" y2="393.0" stroke="#333" stroke-width="1.0"/>
<line x1="327.2" y1="398.5" x2="374.7" y2="398.5" stroke="#111" stroke-width="1.4"/>
<line x1="378.4" y1="398.5" x2="442.7" y2="398.5" stroke="#111" stroke-width="1.4"/>
<line x1="446.3" y1="398.5" x2="508.8" y2="398.5" stroke="#111" stroke-width="1.4"/>
<text x="351.2" y="407.6" font-size="8.3" text-anchor="middle" textLength="11.5" lengthAdjust="spacingAndGlyphs">WT</text>
<text x="401.5" y="407.7" font-size="8.3" text-anchor="start" font-style="italic" textLength="13.6" lengthAdjust="spacingAndGlyphs">Tlr2</text>
<text x="416.0" y="403.8" font-size="4.2" text-anchor="start" textLength="5.8" lengthAdjust="spacingAndGlyphs" fill="#333" style="stroke-width:0.05px">-/-</text>
<text x="467.8" y="407.8" font-size="8.3" text-anchor="start" font-style="italic" textLength="13.6" lengthAdjust="spacingAndGlyphs">Vwf</text>
<text x="482.2" y="403.9" font-size="4.2" text-anchor="start" textLength="5.8" lengthAdjust="spacingAndGlyphs" fill="#333" style="stroke-width:0.05px">-/-</text>
</g>
<rect x="1.5" y="1.5" width="517" height="413" fill="none" stroke="#000" stroke-opacity="0.45" stroke-width="1"/>
<rect x="0.5" y="0.5" width="519" height="415" fill="none" stroke="#000" stroke-width="1"/>
</svg>
</body></html>
